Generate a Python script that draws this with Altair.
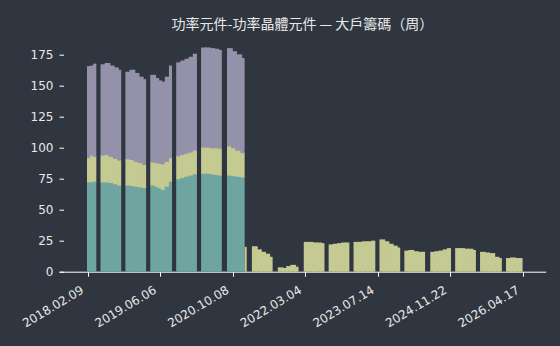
import altair as alt
import pandas as pd

# ---------------- data ----------------
tick_index = [0, 70, 140, 210, 280, 350, 420]
tick_labels = ["2018.02.09", "2019.06.06", "2020.10.08", "2022.03.04",
               "2023.07.14", "2024.11.22", "2026.04.17"]

# weekly bar index ranges of each contiguous run of bars (inclusive)
block_start = [0, 13, 37, 61, 86, 110, 135, 152, 159, 184, 209, 233, 257, 282, 306, 331, 355, 379, 404]
block_end   = [8, 32, 56, 81, 105, 129, 151, 153, 178, 203, 228, 252, 277, 301, 325, 350, 374, 399, 419]

# series values per block (each value covers an equal share of the block's weeks)
series_low = [
    [72.5, 72.5, 73],
    [72.5, 72.5, 72, 71, 70],
    [70, 69.5, 69, 68.5, 68],
    [70, 69, 68, 66.5, 69, 73],
    [75, 76, 77, 78, 79],
    [79.5, 79.5, 79, 78.5, 78],
    [78, 77.5, 77, 76.5],
    [], [], [], [], [], [], [], [], [], [], [], [],
]
series_mid = [
    [19.5, 21.5, 20],
    [21.5, 22, 21, 20.5, 20],
    [21, 21, 20, 19.5, 18.5],
    [18.5, 19, 19.5, 20.5, 20, 19],
    [18.5, 18.5, 18.5, 18.5, 19],
    [21, 21, 21, 21.5, 21.5],
    [23.5, 22.5, 21, 19.5],
    [20],
    [20.5, 18, 16, 14.5, 12],
    [3.5, 3, 4.5, 5.5, 4],
    [24, 24, 23.5, 23.5, 23],
    [22, 22.5, 23, 23.5, 23.5],
    [24, 24, 24.5, 24.5, 25],
    [26, 24.5, 22.5, 21, 19.5],
    [17, 17.5, 16.5, 16, 16],
    [16, 16.5, 17, 18, 19],
    [19, 19, 18.5, 18.5, 17.5],
    [16, 15.5, 15, 12, 11],
    [11, 11.5, 11, 11],
]
series_high = [
    [73.5, 72, 74.5],
    [73, 73.5, 73, 73, 72.5],
    [70, 72, 71, 69, 68.5],
    [70, 68, 66.5, 66, 68, 74],
    [75, 75.5, 76, 76.5, 77.5],
    [80, 80, 80, 79.5, 79],
    [78.5, 77.5, 77, 76],
    [], [], [], [], [], [], [], [], [], [], [], [],
]

series_names = ["low", "mid", "high"]
series_colors = ["#6fa5a0", "#c5c992", "#9492aa"]

# ---------------- build table ----------------
rows = []
for b in range(len(block_start)):
    s, e = block_start[b], block_end[b]
    n = e - s + 1
    lists = [series_low[b], series_mid[b], series_high[b]]
    k = max(len(l) for l in lists)
    bounds = [s + round(j * n / k) for j in range(k + 1)]
    for j in range(k):
        base = 0.0
        # overlap between touching pieces hides anti-aliasing seams
        right = bounds[j + 1] - 0.5 + (1.6 if j < k - 1 else 0.0)
        for name, vals in zip(series_names, lists):
            if not vals:
                continue
            v = vals[j]
            lo = base - 0.6 if base > 0 else base
            rows.append({"x": bounds[j] - 0.5, "x2": right,
                         "y": lo, "y2": base + v, "series": name})
            base += v
df = pd.DataFrame(rows)

label_expr = ""
for v, t in zip(tick_index, tick_labels):
    label_expr += f"datum.value == {v} ? '{t}' : "
label_expr += "''"

color_scale = alt.Scale(domain=series_names, range=series_colors)

chart = alt.Chart(df).mark_rect(strokeWidth=0).encode(
    x=alt.X("x:Q",
            scale=alt.Scale(domain=[-27.5, 441.8], nice=False, zero=False),
            axis=alt.Axis(values=tick_index, labelExpr=label_expr, title=None,
                          grid=False, labelAngle=-31, labelAlign="right",
                          labelBaseline="top", labelPadding=8, labelOffset=-8,
                          tickSize=4.5, domainColor="#ffffff", tickColor="#ffffff",
                          labelFlush=False, labelOverlap=False)),
    x2="x2:Q",
    y=alt.Y("y:Q",
            scale=alt.Scale(domain=[0, 190], nice=False),
            axis=alt.Axis(values=[0, 25, 50, 75, 100, 125, 150, 175], title=None,
                          grid=False, domain=False, tickSize=4.5, offset=-4.5,
                          tickColor="#ffffff", labelPadding=6)),
    y2="y2:Q",
    color=alt.Color("series:N", scale=color_scale, legend=None),
).properties(
    width=486.7,
    height=236,
    title=alt.TitleParams("功率元件-功率晶體元件 — 大戶籌碼（周）",
                          font="Noto Sans CJK TC", fontSize=14, fontWeight="normal",
                          color="#e8e8e8", anchor="middle", offset=4),
    autosize=alt.AutoSizeParams(type="none"),
    padding={"left": 59, "top": 35.7, "right": 14.3, "bottom": 74.3},
    background="#2f3640",
).configure_view(stroke=None).configure_axis(
    labelFont="DejaVu Sans", labelFontSize=12, labelColor="#e8e8e8",
    domainWidth=1, tickWidth=1,
)

chart.save("out.html", embed_options={"renderer": "svg", "actions": False})
